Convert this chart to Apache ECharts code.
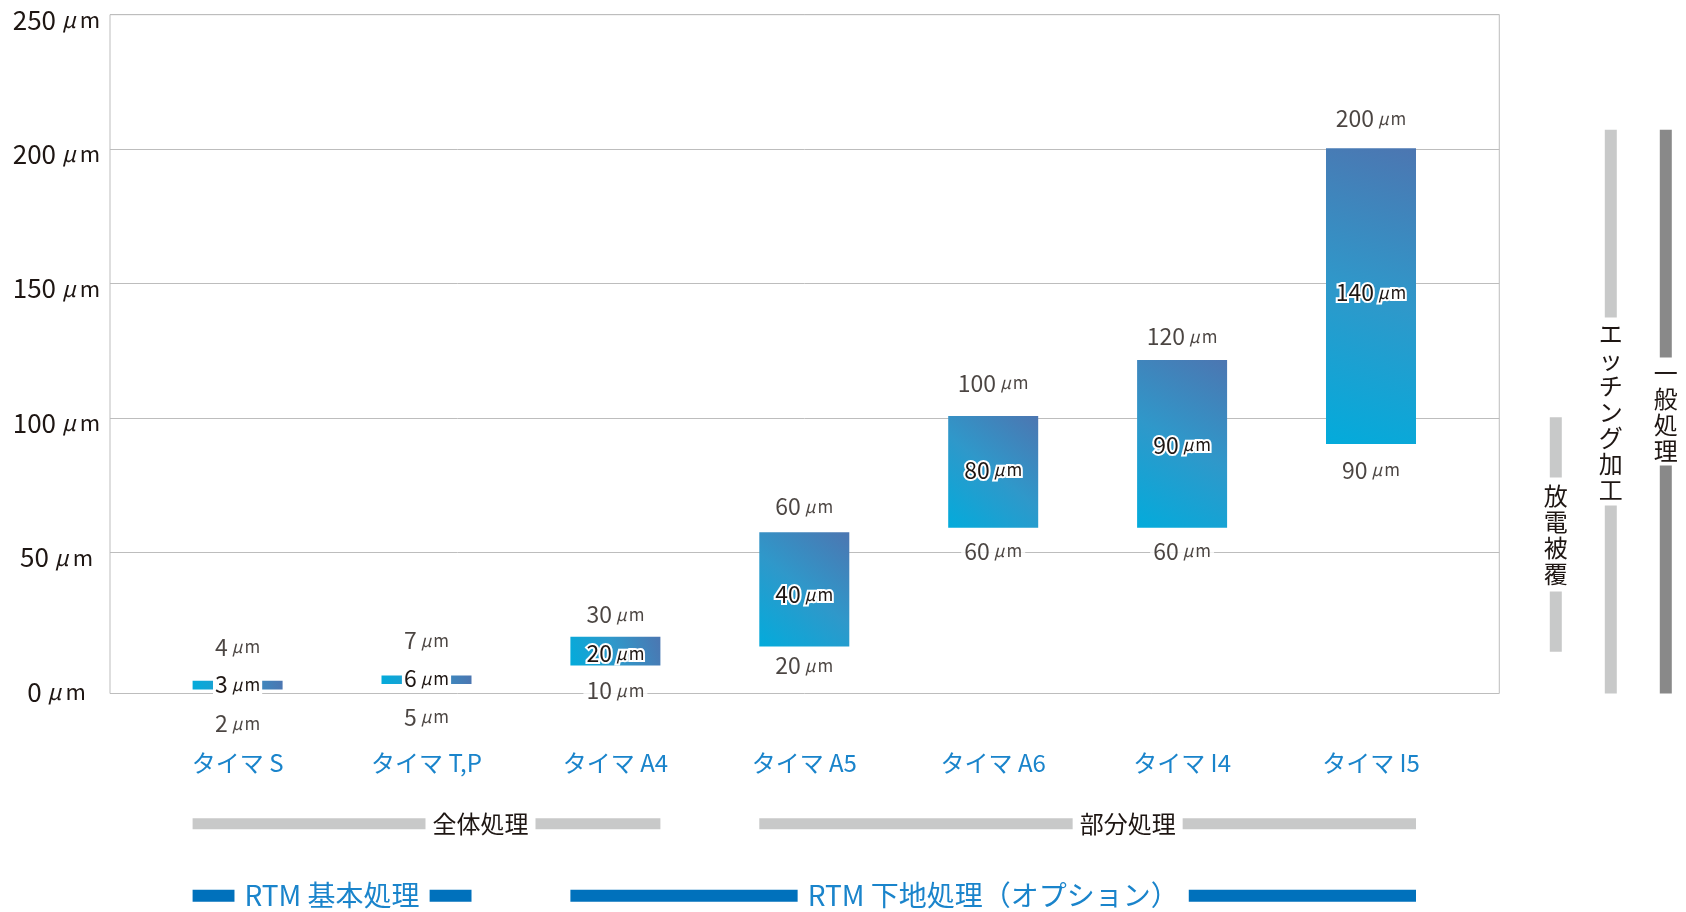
<!DOCTYPE html>
<html>
<head>
<meta charset="utf-8">
<script src="https://cdn.jsdelivr.net/npm/echarts@6/dist/echarts.min.js"></script>
<style>
html,body{margin:0;padding:0;background:#ffffff;}
#c{width:1686px;height:912px;}
</style>
</head>
<body>
<div id="c"></div>
<script>
// ---------------- data ----------------
const categories = ['タイマ S', 'タイマ T,P', 'タイマ A4', 'タイマ A5', 'タイマ A6', 'タイマ I4', 'タイマ I5'];
// bar extents as drawn (μm, on the axis scale)
const barLow  = [-1.0, 1.0, 7.9, 15.0, 59.1, 59.1, 90.3];
const barHigh = [2.2, 4.2, 18.6, 57.5, 100.7, 121.5, 200.3];
// printed values
const topText = ['4', '7', '30', '60', '100', '120', '200'];
const midText = ['3', '6', '20', '40', '80', '90', '140'];
const lowText = ['2', '5', '10', '20', '60', '60', '90'];
const yTicks = [0, 50, 100, 150, 200, 250];
const unitMu = 'μ';
const unitM = 'm';

// right-hand vertical brackets
const sideNames = ['放電被覆', 'エッチング加工', '一般処理'];
const sideLow  = [13.0, -2.5, -2.5];
const sideHigh = [100.2, 207.2, 207.2];

// bottom brackets (category index from .. to)
const groupNames = ['全体処理', '部分処理'];
const groupFrom = [0, 3];
const groupTo   = [2, 6];
const rtmNames = ['RTM 基本処理', 'RTM 下地処理（オプション）'];
const rtmFrom = [0, 2];
const rtmTo   = [1, 6];

// ---------------- styles ----------------
const FONT = '"Noto Sans CJK JP", "Noto Sans", sans-serif';
const DARK = '#1e1613';
const BLUE_TXT = '#1a84cb';
const BLUE_BAR = '#0071bc';
const GRAY_BAR = '#c8c9c9';
const DARK_GRAY_BAR = '#898989';
const GRID_LINE = '#bdbdbd';
const BAR_W = 90;
const topGap = [34, 35, 22, 26, 33, 24, 30];
const lowGap = [34, 33, 25, 19, 23, 23, 26];
const midShift = [-1, -1, 2, 5, -2, 1, -4];
const sidePad = [5, 3, 2];
const sideColors = [GRAY_BAR, GRAY_BAR, DARK_GRAY_BAR];
const groupShift = [54, 40];

const G_TOP = 14.7, G_BOTTOM = 912 - 686.7;

function unitRich(nSize, uSize, muPad, extra) {
  const lh = nSize + 2;
  const base = s => Object.assign({fontSize: s, fontFamily: FONT, color: DARK, lineHeight: lh}, extra || {});
  return {
    n: base(nSize),
    g: Object.assign(base(uSize), {fontStyle: 'italic', padding: muPad}),
    u: base(uSize)
  };
}
const fmt = t => '{n|' + t + '}{g|' + unitMu + '}{u|' + unitM + '}';

const barGradient = new echarts.graphic.LinearGradient(0, 1, 1, 0, [
  {offset: 0, color: '#03abdb'},
  {offset: 0.5, color: '#2f98ca'},
  {offset: 1, color: '#4c76b1'}
]);

const chart = echarts.init(document.getElementById('c'), null, {renderer: 'canvas'});

function spanRenderer(names, rowY, barColor, barH, txtColor, fontSize, pad, shifts) {
  return function (params, api) {
    const i = params.dataIndex;
    const x0 = api.coord([api.value(0), 0])[0] - BAR_W / 2;
    const x1 = api.coord([api.value(1), 0])[0] + BAR_W / 2;
    const cx = (x0 + x1) / 2 + (shifts ? shifts[i] : 0);
    return {
      type: 'group',
      children: [
        {type: 'rect', shape: {x: x0, y: rowY - barH / 2, width: x1 - x0, height: barH}, style: {fill: barColor}},
        {type: 'text', z2: 10, style: {
          text: names[i], x: cx, y: rowY, fill: txtColor,
          font: fontSize + 'px ' + FONT,
          align: 'center', verticalAlign: 'middle', textAlign: 'center', textVerticalAlign: 'middle',
          backgroundColor: '#ffffff', padding: [0, pad]
        }}
      ]
    };
  };
}

const dataRich = unitRich(23, 17, [0, 2, 0, 4]);

const option = {
  animation: false,
  backgroundColor: '#ffffff',
  grid: [
    {left: 143.15, right: 220.55, top: G_TOP, bottom: G_BOTTOM, outerBoundsMode: 'none'},            // data
    {left: 110, right: 186.7, top: G_TOP, bottom: 912 - 693.5, show: true, borderColor: GRID_LINE, borderWidth: 1, backgroundColor: 'transparent', outerBoundsMode: 'none'}, // frame
    {left: 110, right: 186.7, top: G_TOP, bottom: G_BOTTOM, outerBoundsMode: 'none'},                   // y labels / split lines
    {left: 1555.8, right: 20.2, top: G_TOP, bottom: G_BOTTOM, outerBoundsMode: 'none'}                  // side brackets
  ],
  xAxis: [
    {gridIndex: 0, type: 'category', data: categories, boundaryGap: true,
     axisLine: {show: false}, axisTick: {show: false}, splitLine: {show: false},
     axisLabel: {margin: 64, color: BLUE_TXT, fontFamily: FONT, fontSize: 24, lineHeight: 24, interval: 0}},
    {gridIndex: 1, type: 'value', show: false, min: 0, max: 1},
    {gridIndex: 2, type: 'value', show: false, min: 0, max: 1},
    {gridIndex: 3, type: 'category', data: sideNames, boundaryGap: false, show: false}
  ],
  yAxis: [
    {gridIndex: 0, type: 'value', min: yTicks[0], max: yTicks[yTicks.length - 1], interval: yTicks[1] - yTicks[0], show: false, splitLine: {show: false}},
    {gridIndex: 1, type: 'value', show: false, min: 0, max: 1},
    {gridIndex: 2, type: 'value', min: yTicks[0], max: yTicks[yTicks.length - 1], interval: yTicks[1] - yTicks[0],
     axisLine: {show: false}, axisTick: {show: false},
     axisLabel: {margin: 53.5, align: 'center', verticalAlign: 'middle', padding: [10, 0, 0, 0],
                 formatter: v => fmt(v), rich: unitRich(26, 22, [0, 4, 0, 6])},
     splitLine: {show: true, showMinLine: false, lineStyle: {color: GRID_LINE, width: 1}}},
    {gridIndex: 3, type: 'value', min: yTicks[0], max: yTicks[yTicks.length - 1], show: false, splitLine: {show: false}}
  ],
  series: [
    // main range bars: transparent base + gradient body
    {type: 'bar', xAxisIndex: 0, yAxisIndex: 0, stack: 'main', stackStrategy: 'all', barWidth: BAR_W, clip: false,
     silent: true, itemStyle: {color: 'rgba(0,0,0,0)'}, data: barLow, emphasis: {disabled: true}},
    {type: 'bar', xAxisIndex: 0, yAxisIndex: 0, stack: 'main', stackStrategy: 'all', barWidth: BAR_W, clip: false,
     silent: true, emphasis: {disabled: true}, z: 3,
     itemStyle: {color: barGradient},
     data: barHigh.map((h, i) => {
       const boxed = i < 2;
       return {
         value: h - barLow[i],
         label: boxed
           ? {offset: [0, midShift[i]], backgroundColor: '#ffffff', padding: [0, 2], rich: dataRich}
           : {offset: [0, midShift[i]], rich: unitRich(23, 17, [0, 2, 0, 4], {textBorderColor: '#ffffff', textBorderWidth: 4})}
       };
     }),
     label: {show: true, position: 'inside', formatter: p => fmt(midText[p.dataIndex]), rich: dataRich}},
    // top value labels
    {type: 'scatter', xAxisIndex: 0, yAxisIndex: 0, symbolSize: 1, clip: false, silent: true, z: 5,
     itemStyle: {color: 'rgba(0,0,0,0)'},
     data: barHigh.map((v, i) => ({value: [i, v], label: {offset: [0, -topGap[i]]}})),
     label: {show: true, position: 'inside', formatter: p => fmt(topText[p.dataIndex]), rich: dataRich,
             backgroundColor: '#ffffff', padding: [0, 3]}},
    // bottom value labels
    {type: 'scatter', xAxisIndex: 0, yAxisIndex: 0, symbolSize: 1, clip: false, silent: true, z: 5,
     itemStyle: {color: 'rgba(0,0,0,0)'},
     data: barLow.map((v, i) => ({value: [i, v], label: {offset: [0, lowGap[i]]}})),
     label: {show: true, position: 'inside', formatter: p => fmt(lowText[p.dataIndex]), rich: dataRich,
             backgroundColor: '#ffffff', padding: [0, 3]}},
    // side brackets
    {type: 'bar', xAxisIndex: 3, yAxisIndex: 3, stack: 'side', stackStrategy: 'all', barWidth: 12, clip: false,
     silent: true, itemStyle: {color: 'rgba(0,0,0,0)'}, data: sideLow, emphasis: {disabled: true}},
    {type: 'bar', xAxisIndex: 3, yAxisIndex: 3, stack: 'side', stackStrategy: 'all', barWidth: 12, clip: false,
     silent: true, emphasis: {disabled: true},
     data: sideHigh.map((h, i) => ({value: h - sideLow[i], itemStyle: {color: sideColors[i]},
                                     label: {padding: [sidePad[i], 0]}})),
     label: {show: true, position: 'inside', formatter: p => sideNames[p.dataIndex].split('').join('\n'),
             color: DARK, fontFamily: FONT, fontSize: 24, lineHeight: 26, backgroundColor: '#ffffff', align: 'center'}},
    // bottom brackets
    {type: 'custom', xAxisIndex: 0, yAxisIndex: 0, silent: true, clip: false,
     data: groupFrom.map((f, i) => [f, groupTo[i]]),
     renderItem: spanRenderer(groupNames, 823.7, GRAY_BAR, 11, DARK, 24, 7, groupShift)},
    {type: 'custom', xAxisIndex: 0, yAxisIndex: 0, silent: true, clip: false,
     data: rtmFrom.map((f, i) => [f, rtmTo[i]]),
     renderItem: spanRenderer(rtmNames, 895.7, BLUE_BAR, 12, BLUE_TXT, 28, 10, null)}
  ]
};
chart.setOption(option);
</script>
</body>
</html>
